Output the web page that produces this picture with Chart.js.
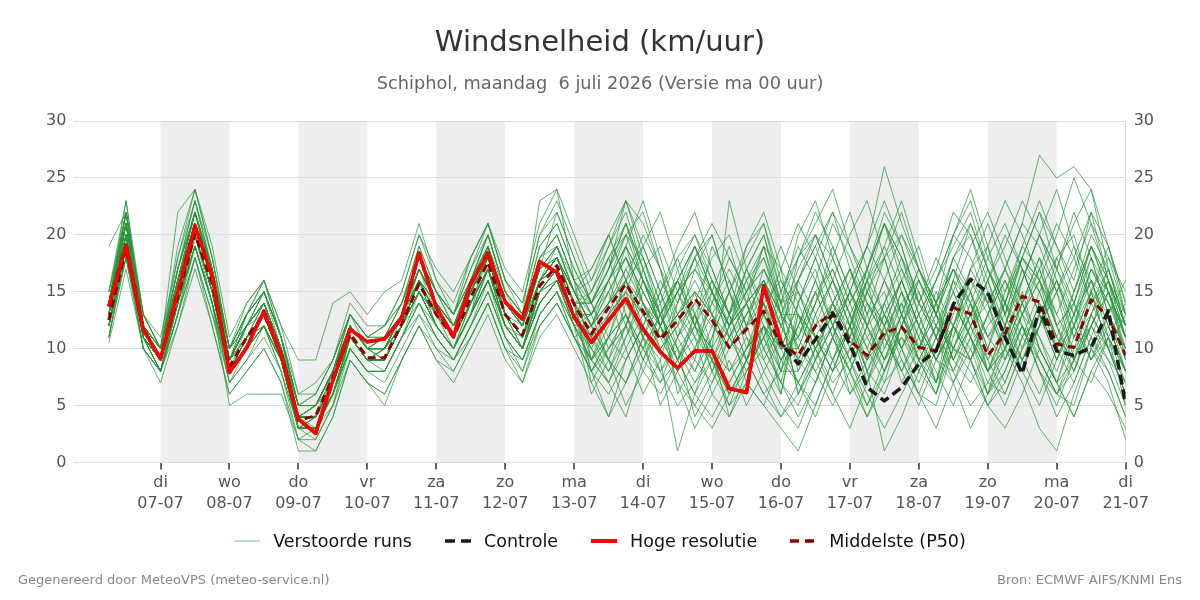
<!DOCTYPE html>
<html><head><meta charset="utf-8">
<script src="https://cdn.jsdelivr.net/npm/chart.js@4/dist/chart.umd.min.js"></script>
<style>
html,body{margin:0;padding:0;background:#fff;}
#wrap{position:relative;width:1200px;height:600px;font-family:'DejaVu Sans',sans-serif;overflow:hidden;}
#c{position:absolute;left:0;top:0;}
.legend{position:absolute;left:0;width:1200px;top:530px;display:flex;justify-content:center;align-items:center;font-size:17.5px;color:#111;line-height:22px;}
.item{display:flex;align-items:center;margin:0 16.5px;}
.item svg{margin-right:13px;display:block;}
.foot{position:absolute;top:571px;font-size:13px;color:#888;line-height:18px;white-space:nowrap;}
</style></head>
<body>
<div id="wrap">
<canvas id="c" width="1200" height="600"></canvas>
<div class="legend" id="legend"></div>
<div class="foot" style="left:18px;">Gegenereerd door MeteoVPS (meteo-service.nl)</div>
<div class="foot" style="right:18px;">Bron: ECMWF AIFS/KNMI Ens</div>
</div>
<script>
const titleText = 'Windsnelheid (km/uur)';
const subtitleText = 'Schiphol, maandag  6 juli 2026 (Versie ma 00 uur)';

const hours = [6,12,18,24,30,36,42,48,54,60,66,72,78,84,90,96,102,108,114,120,126,132,138,144,150,156,162,168,174,180,186,192,198,204,210,216,222,228,234,240,246,252,258,264,270,276,282,288,294,300,306,312,318,324,330,336,342,348,354,360];
const tickHours = [24,48,72,96,120,144,168,192,216,240,264,288,312,336,360];
const dayNames = ['di','wo','do','vr','za','zo','ma','di','wo','do','vr','za','zo','ma','di'];
const dayDates = ['07-07','08-07','09-07','10-07','11-07','12-07','13-07','14-07','15-07','16-07','17-07','18-07','19-07','20-07','21-07'];
const shadedStarts = [24,72,120,168,216,264,312];

const hresRun = [13.7,19.1,11.7,9.1,15,20.8,16.3,7.9,10.1,13.3,9.5,3.8,2.55,7.2,11.7,10.6,10.85,12.7,18.4,13.6,11.1,15.7,18.4,14.1,12.6,17.65,16.7,12.75,10.55,12.5,14.4,11.7,9.7,8.3,9.8,9.8,6.5,6.15,15.5,10.7];
const controlRun = [13.7,19.1,11.7,9.1,15,20.8,16.3,7.9,10.1,13.3,9.5,3.8,2.55,7.2,11.7,10.6,10.85,12.7,18.4,13.6,11.1,15.7,18.4,14.1,12.6,17.65,16.7,12.75,10.55,12.5,14.4,11.7,9.7,8.3,9.8,9.8,6.5,6.15,15.5,10.5,8.65,10.8,13.05,10.4,6.6,5.4,6.6,8.65,9.8,13.9,16.1,14.95,11,7.8,13.6,9.8,9.4,10.1,13.35,5.1];
const medianRun = [12.5,18.8,11.6,9.2,14.5,20.1,15.7,8.4,11,13,9.5,3.7,4.1,7.5,11.3,9.2,9.2,12.2,15.7,13,11,14.5,17.6,13,11.2,15.5,17.3,13.9,11.3,13.6,15.7,13.3,10.8,12.5,14.4,12.5,10.1,11.7,13.3,10.4,9.4,12,13.2,10.7,9.4,11.4,11.9,10.1,9.8,13.6,13.05,9.4,11.3,14.6,14.1,10.4,10.1,14.3,12.75,9.4];

const run01 = [14,21,12,9,16,22,16,9,12,14,10,4,3,8,12,10,9,13,17,14,12,15,19,14,12,17,18,15,17,20,16,11,14,18,13,8,12,17,20,14,8,13,16,12,7,12,14,9,10,16,14,8,12,17,15,11,9,15,13,10];
const run02 = [12,19,11,8,14,19,14,8,10,12,9,3,4,6,11,9,10,12,15,12,10,13,16,12,10,14,16,12,13,16,12,8,6,9,13,16,12,7,5,9,11,15,11,8,12,14,10,7,11,9,12,14,10,8,13,16,12,9,11,7];
const run03 = [13,22,12,10,17,23,18,10,13,15,11,5,5,8,13,11,11,14,19,15,13,16,20,15,13,19,21,17,14,16,19,16,12,15,18,15,12,14,16,13,6,10,14,17,13,9,12,16,13,18,20,15,11,9,12,18,20,15,10,6];
const run04 = [11,18,10,8,13,18,13,7,9,11,8,2,3,5,10,8,7,10,13,11,9,12,15,11,9,13,15,12,6,9,14,11,5,8,13,10,4,7,12,6,14,17,12,6,8,11,15,12,9,7,10,13,16,12,8,6,9,12,15,11];
const run05 = [15,21,13,10,16,21,17,9,13,15,11,5,6,9,13,10,11,14,18,15,12,16,19,13,12,18,20,16,9,12,16,20,17,11,8,12,15,18,21,15,10,8,11,15,19,16,12,8,6,11,17,19,14,10,12,15,9,7,11,14];
const run06 = [12,20,11,9,14,20,15,8,11,13,9,3,3,7,11,9,9,12,16,13,11,14,17,13,11,16,17,14,14,17,21,16,12,15,19,15,11,14,19,13,16,20,18,14,17,21,17,13,16,19,22,17,13,16,20,17,14,19,16,12];
const run07 = [14,23,12,10,19,24,18,10,14,16,11,6,7,9,13,11,12,15,20,16,14,18,21,16,14,20,22,18,14,17,20,18,14,16,19,16,13,15,17,14,20,23,18,14,17,22,19,14,11,16,21,17,13,18,22,19,16,22,19,14];
const run08 = [13,19,12,9,15,21,16,9,12,14,10,4,4,7,12,10,10,13,16,13,11,15,18,13,11,16,18,14,14,18,13,9,7,11,15,10,6,9,13,17,9,12,14,11,16,18,13,10,7,12,15,9,6,10,14,10,13,18,13,9];
const run09 = [11,18,10,8,12,18,12,6,8,10,7,2,2,5,9,7,6,9,12,10,8,11,14,10,8,12,14,11,8,10,12,10,7,9,11,9,6,8,10,7,5,9,12,8,4,7,9,6,5,10,8,5,7,11,9,6,5,10,8,4];
const run10 = [13,21,11,9,15,21,16,9,11,14,10,4,4,7,12,10,9,12,16,13,11,14,17,13,11,15,17,13,8,11,16,18,14,6,9,15,19,14,10,7,13,11,8,10,15,12,7,10,14,17,13,8,10,16,20,16,11,13,17,12];
const run11 = [14,20,12,10,16,21,17,9,12,14,10,5,5,8,12,10,11,13,17,14,12,15,18,14,12,16,18,14,8,11,15,19,22,17,12,16,13,9,12,8,16,19,15,11,9,14,17,14,12,10,9,12,14,18,22,17,13,16,14,11];
const run12 = [12,19,11,8,14,20,15,8,10,12,9,3,3,6,11,9,9,12,15,12,10,14,17,12,10,15,17,13,13,9,5,8,12,7,3,6,9,5,8,11,7,5,9,12,8,6,10,13,9,8,11,7,6,10,14,11,8,12,16,13];
const run13 = [15,22,13,10,18,23,17,10,13,15,11,5,6,9,13,11,12,14,18,15,13,17,20,15,13,23,24,16,13,15,18,15,12,15,17,14,12,14,16,13,10,14,19,15,11,13,16,12,14,17,15,11,13,18,16,12,14,19,15,11];
const run14 = [11,19,10,8,13,19,14,7,10,12,8,3,3,6,10,8,8,11,14,12,10,13,16,12,10,14,16,12,12,9,7,11,15,10,4,7,11,14,9,6,13,10,7,9,11,8,12,15,11,14,11,8,10,13,11,8,12,16,11,8];
const run15 = [13,20,12,9,15,20,15,8,11,13,9,4,4,7,11,9,10,12,16,13,11,14,18,13,11,16,17,14,15,19,22,17,12,17,20,17,13,19,22,17,14,18,22,19,16,21,18,14,17,22,20,16,19,23,20,17,21,24,19,13];
const run16 = [14,22,12,10,17,22,17,9,12,15,10,4,5,8,12,10,10,13,18,14,12,16,19,14,12,17,19,15,16,20,23,18,13,9,12,19,16,12,17,13,11,15,17,13,9,11,14,16,12,10,13,17,14,11,13,16,12,9,13,16];
const run17 = [12,18,11,8,14,19,14,8,10,12,9,3,3,6,10,8,8,11,14,11,9,12,15,11,9,13,15,11,12,15,10,6,9,14,18,13,8,11,7,4,6,9,12,15,12,8,11,9,7,12,10,6,8,12,10,7,9,13,10,6];
const run18 = [13,21,12,9,16,21,16,9,12,14,10,4,4,8,12,10,10,13,17,14,12,15,18,14,12,17,18,15,12,14,16,14,11,13,15,13,10,12,14,11,18,21,24,19,15,12,16,19,14,20,23,18,15,18,16,13,17,21,18,15];
const run19 = [19,22,13,10,22,24,18,10,12,15,11,5,5,8,12,10,10,13,16,12,10,13,19,15,12,17,22,18,14,10,12,17,19,15,12,10,23,17,13,9,12,16,21,18,14,11,8,12,16,20,24,19,13,9,12,17,22,18,13,8];
const run20 = [10.5,17,10,7,12,17,12,6,8,10,7,1,1,4,9,7,6,9,12,9,8,11,14,10,7,11,13,10,7,4,7,11,9,1,6,9,5,7,5,3,1,5,9,12,8,1,4,8,11,7,3,6,10,7,3,1,6,10,7,2];
const run21 = [13,20,12,9,14,21,17,9,13,16,12,9,9,14,15,13,15,16,21,16,13,18,21,16,14,20,23,19,15,18,21,17,13,16,19,15,12,15,17,14,18,22,19,15,12,16,20,17,13,11,15,19,23,20,16,12,14,18,15,11];
const run22 = [12,19,11,8,13,20,14,5,6,6,6,2,1,4,9,7,5,9,12,9,7,10,13,9,7,12,14,11,8,6,9,12,10,7,5,8,11,9,6,4,7,10,13,9,6,3,6,9,12,8,5,7,10,14,11,7,4,8,11,5];
const run23 = [14,21,12,10,17,22,17,10,12,13,10,4,5,7,12,10,11,13,16,14,12,15,18,13,11,15,16,12,9,13,17,19,15,11,14,18,20,16,12,10,7,4,8,12,16,13,10,6,3,7,11,15,12,8,5,9,13,16,12,8];
const run24 = [13,20,11,9,15,20,15,8,11,13,9,3,3,6,11,9,9,12,15,13,10,14,17,12,10,15,17,14,12,16,20,22,17,12,9,7,10,13,16,12,9,7,11,14,10,7,12,16,13,9,7,10,15,19,17,12,9,13,10,6];
const run25 = [12,19,11,9,14,19,14,8,11,13,9,3,4,7,11,9,10,12,14,11,9,12,16,12,11,14,16,12,10,8,11,14,12,9,6,4,7,10,12,9,12,15,11,7,4,8,12,10,14,18,15,11,14,12,8,5,9,12,9,7];
const run26 = [15,23,13,11,18,24,19,11,14,16,12,6,6,9,14,12,12,15,20,17,15,18,21,17,15,21,24,20,16,19,23,21,17,14,18,21,18,15,19,17,21,18,14,11,15,19,23,18,13,10,14,18,21,17,13,9,13,17,15,11];
const run27 = [13,21,12,9,16,21,16,9,12,14,10,4,4,7,12,10,9,12,17,14,12,15,18,14,12,16,18,14,11,9,12,16,13,10,8,11,15,19,21,16,13,9,6,10,14,12,8,11,15,12,9,13,17,14,10,7,11,15,18,13];
const run28 = [12,20,11,8,15,20,15,9,11,12,9,3,3,6,11,9,8,11,15,12,10,13,17,13,10,15,17,13,10,13,15,11,8,11,13,9,6,9,11,7,4,7,11,15,12,9,13,17,14,10,13,16,12,8,12,16,13,9,12,8];
const run29 = [14,22,12,10,16,22,16,9,12,14,10,5,5,8,12,10,10,13,17,14,12,15,18,13,11,16,18,15,13,16,18,15,12,9,12,15,11,8,11,14,16,13,9,6,9,13,16,12,9,13,17,21,17,13,16,20,25,21,16,12];
const run30 = [13,20,12,9,15,21,16,8,11,13,9,4,4,7,11,9,10,12,16,13,11,14,17,12,10,15,17,13,10,7,4,9,13,16,12,8,5,9,14,8,8,11,14,12,16,19,15,11,7,10,14,10,7,11,15,18,14,10,13,10];
const run31 = [12,18,11,8,14,19,14,7,9,12,8,3,3,6,10,8,8,11,13,10,9,11,14,10,9,12,14,11,9,7,10,13,11,8,5,3,6,9,12,10,14,18,14,10,7,10,14,11,8,5,9,13,16,13,9,6,10,14,11,8];
const run32 = [14,21,12,9,16,22,17,9,12,14,10,4,4,7,12,10,10,13,18,15,13,16,19,14,12,18,20,16,14,11,9,12,16,13,11,14,17,14,10,13,17,20,16,12,9,13,10,14,18,15,12,9,12,16,20,24,19,14,17,12];
const run33 = [11,19,10,8,13,18,13,8,10,12,9,3,3,6,10,8,8,11,14,11,9,12,15,11,9,13,15,12,9,11,13,10,13,16,13,9,7,10,13,10,11,8,5,8,12,16,13,9,12,15,11,8,5,9,13,10,7,11,9,5];
const run34 = [13,21,11,9,16,21,16,9,12,14,10,4,4,7,12,10,10,13,16,14,11,14,17,13,11,16,18,15,12,14,16,13,11,14,18,20,15,11,9,12,15,11,8,12,17,21,16,12,9,12,16,13,10,14,18,15,11,15,19,14];
const run35 = [13,20,12,9,15,20,15,8,11,13,9,4,4,7,11,9,9,12,15,12,10,13,16,12,10,14,16,13,11,13,15,13,10,12,14,12,10,12,13,10,10,14,17,13,8,12,16,12,7,14,11,6,12,17,13,9,12,15,10,13];
const run36 = [14,22,13,10,17,22,17,10,13,15,11,5,5,8,13,11,11,14,18,15,13,16,20,15,13,18,19,16,17,20,16,12,15,19,22,17,13,16,19,14,15,11,9,13,16,10,13,17,14,9,13,16,11,14,18,12,8,13,16,9];
const run37 = [12,19,11,9,14,20,15,8,10,12,9,3,3,6,11,9,9,12,15,12,10,13,17,12,10,15,16,13,15,18,20,16,12,16,19,15,12,16,18,13,6,9,14,17,12,9,11,8,12,16,12,8,11,15,10,7,12,17,14,10];
const run38 = [13,21,12,9,15,21,16,9,11,14,10,4,4,7,12,10,10,13,16,14,11,15,18,13,11,16,18,14,9,7,11,15,12,8,10,14,18,15,11,8,12,16,12,9,13,15,10,13,9,12,17,14,9,13,17,13,10,12,15,11];
const run39 = [12,20,11,9,15,20,15,8,11,13,9,3,4,7,11,9,9,12,15,13,11,14,17,13,11,16,17,14,7,10,13,9,12,15,11,6,4,8,11,15,18,20,16,12,17,21,18,13,16,20,18,14,17,21,19,15,18,22,16,11];
const run40 = [14,22,12,10,16,22,16,9,12,14,10,4,5,8,12,10,10,13,17,14,12,15,19,14,12,17,19,15,14,17,21,17,13,16,12,9,13,17,14,10,14,10,13,17,14,11,15,10,13,17,14,11,9,13,16,10,12,17,14,12];
const run41 = [12,19,11,9,15,20,15,8,12,15,11,3,2,5,11,9,9,12,16,12,10,13,16,11,8,13,15,11,8,4,9,12,8,5,7,10,13,9,6,8,12,10,6,3,7,11,8,5,9,12,9,5,3,6,10,7,4,8,6,3];
const run42 = [13,22,12,10,17,23,17,10,13,16,11,4,5,8,13,11,12,14,19,15,13,17,21,16,13,19,21,17,14,17,23,19,15,18,20,16,13,17,20,15,19,16,12,15,19,23,19,14,11,15,19,22,18,14,17,21,18,14,16,12];
const run43 = [14,20,12,9,15,21,16,9,12,14,10,5,5,8,12,10,10,13,17,13,11,15,18,13,11,16,19,15,12,9,7,10,13,10,7,9,12,15,18,14,11,14,18,22,17,13,9,6,10,14,11,8,12,9,6,10,15,19,15,9];
const run44 = [13,20,12,9,16,21,16,9,12,14,10,4,4,7,11,9,9,12,16,14,12,14,17,13,10,16,18,14,11,14,19,23,18,13,10,13,16,12,15,19,15,12,16,13,10,14,18,15,11,8,12,16,20,17,13,10,14,11,15,10];
const run45 = [12,19,11,8,14,19,14,8,11,13,9,3,3,6,11,9,9,12,15,12,10,13,17,12,10,14,16,13,13,16,19,14,10,12,17,20,15,10,14,16,13,11,8,12,15,18,22,17,13,9,12,15,11,8,12,15,19,16,12,8];
const run46 = [13,21,12,9,15,21,16,9,12,14,10,4,4,7,12,10,10,13,17,14,12,15,19,14,12,17,19,15,12,15,18,14,11,13,16,13,10,13,16,12,9,13,16,20,23,18,13,10,13,17,14,10,14,18,15,11,15,19,16,11];
const run47 = [14,21,12,10,16,22,17,10,13,15,11,5,5,8,12,10,11,13,18,15,12,16,20,15,13,18,20,16,13,16,19,16,13,15,17,15,12,14,16,13,13,9,12,16,19,26,21,17,14,12,16,14,17,21,27,25,26,24,17,12];
const run48 = [12,19,11,8,14,20,15,8,11,12,9,3,3,6,11,9,9,12,15,12,10,13,16,12,10,14,16,12,9,11,13,10,8,10,12,10,8,10,12,9,7,10,12,9,5,8,12,9,6,10,9,6,9,12,9,6,8,12,10,7];
const run49 = [13,20,11,9,15,20,15,8,11,13,9,4,4,7,11,9,9,12,16,13,11,14,17,13,11,15,17,13,11,8,12,16,13,9,6,11,15,12,8,5,3,7,11,8,5,9,13,9,6,12,9,5,8,12,8,4,7,11,8,4];
const run50 = [13,21,12,10,16,22,16,9,12,14,10,4,5,8,12,10,10,13,17,14,12,15,18,14,12,16,18,15,12,14,17,14,11,13,15,13,11,13,15,12,16,19,22,17,13,18,20,16,13,18,21,17,14,19,23,19,15,20,17,13];
const perturbedRuns = [run01,run02,run03,run04,run05,run06,run07,run08,run09,run10,run11,run12,run13,run14,run15,run16,run17,run18,run19,run20,run21,run22,run23,run24,run25,run26,run27,run28,run29,run30,run31,run32,run33,run34,run35,run36,run37,run38,run39,run40,run41,run42,run43,run44,run45,run46,run47,run48,run49,run50];

const memberStyle = {label:'Verstoorde runs', color:'rgba(40,150,60,0.72)', width:1, dash:[]};
const controlStyle = {label:'Controle', color:'#1a1a1a', width:3.5, dash:[10,5]};
const hresStyle = {label:'Hoge resolutie', color:'#ff0000', width:3.5, dash:[]};
const medianStyle = {label:'Middelste (P50)', color:'#8b0000', width:3, dash:[8,5]};

Chart.defaults.font.family = "'DejaVu Sans', sans-serif";

function pts(values){ return values.map((v,i)=>({x:hours[i], y:v})); }
function ds(values, st, order){
  return {label:st.label, data:pts(values), borderColor:st.color, borderWidth:st.width, borderDash:st.dash,
    pointRadius:0, pointHoverRadius:0, tension:0, fill:false, order:order, borderJoinStyle:'round'};
}
const datasets = [];
perturbedRuns.forEach(r => datasets.push(ds(r, memberStyle, 4)));
datasets.push(ds(medianRun, medianStyle, 3));
datasets.push(ds(controlRun, controlStyle, 2));
datasets.push(ds(hresRun, hresStyle, 1));

const dayBands = {
  id:'dayBands',
  beforeDraw(chart){
    const {ctx, chartArea:a, scales:{x}} = chart;
    ctx.save();
    ctx.fillStyle = '#eeeeee';
    shadedStarts.forEach(h => {
      const x0 = x.getPixelForValue(h), x1 = x.getPixelForValue(h+24);
      ctx.fillRect(x0, a.top, x1-x0, a.bottom-a.top);
    });
    ctx.restore();
  }
};

new Chart(document.getElementById('c'), {
  type:'line',
  data:{datasets},
  options:{
    responsive:false, animation:false,
    layout:{padding:{left:38, right:38, top:0, bottom:83}},
    plugins:{
      legend:{display:false},
      tooltip:{enabled:false},
      title:{display:true, text:titleText, color:'#333', font:{size:29, weight:'normal'}, padding:{top:26, bottom:13}},
      subtitle:{display:true, text:subtitleText, color:'#666', font:{size:17.75, weight:'normal'}, padding:{top:0, bottom:26}}
    },
    scales:{
      x:{type:'linear', min:-6, max:360,
        afterBuildTicks: ax => { ax.ticks = tickHours.map(v => ({value:v})); },
        ticks:{autoSkip:false, maxRotation:0, color:'#555', font:{size:16, lineHeight:1.3}, padding:3,
          callback:(v,i) => [dayNames[i], dayDates[i]]},
        grid:{drawOnChartArea:false, drawTicks:true, tickLength:7, color:'#666', lineWidth:2},
        border:{display:false}},
      y:{min:0, max:30, ticks:{stepSize:5, color:'#555', font:{size:16}, padding:8},
        grid:{color:'#dddddd', drawTicks:false}, border:{display:false}},
      y2:{position:'right', min:0, max:30, ticks:{stepSize:5, color:'#555', font:{size:16}, padding:8},
        grid:{drawOnChartArea:false, drawTicks:false}, border:{display:true, color:'#dddddd'}}
    }
  },
  plugins:[dayBands]
});

// HTML legend built from the same series styles
const legendEl = document.getElementById('legend');
[memberStyle, controlStyle, hresStyle, medianStyle].forEach(st => {
  const item = document.createElement('div');
  item.className = 'item';
  const lw = st === memberStyle ? 1 : (st === hresStyle ? 4 : 3.5);
  const col = st === memberStyle ? 'rgba(40,150,60,0.6)' : st.color;
  const dash = st.dash.length ? `stroke-dasharray="${st === controlStyle ? '10,6' : '9,6'}"` : '';
  item.innerHTML = `<svg width="26" height="10"><line x1="0" y1="5" x2="26" y2="5" stroke="${col}" stroke-width="${lw}" ${dash}/></svg><span>${st.label}</span>`;
  legendEl.appendChild(item);
});
</script>
</body></html>
